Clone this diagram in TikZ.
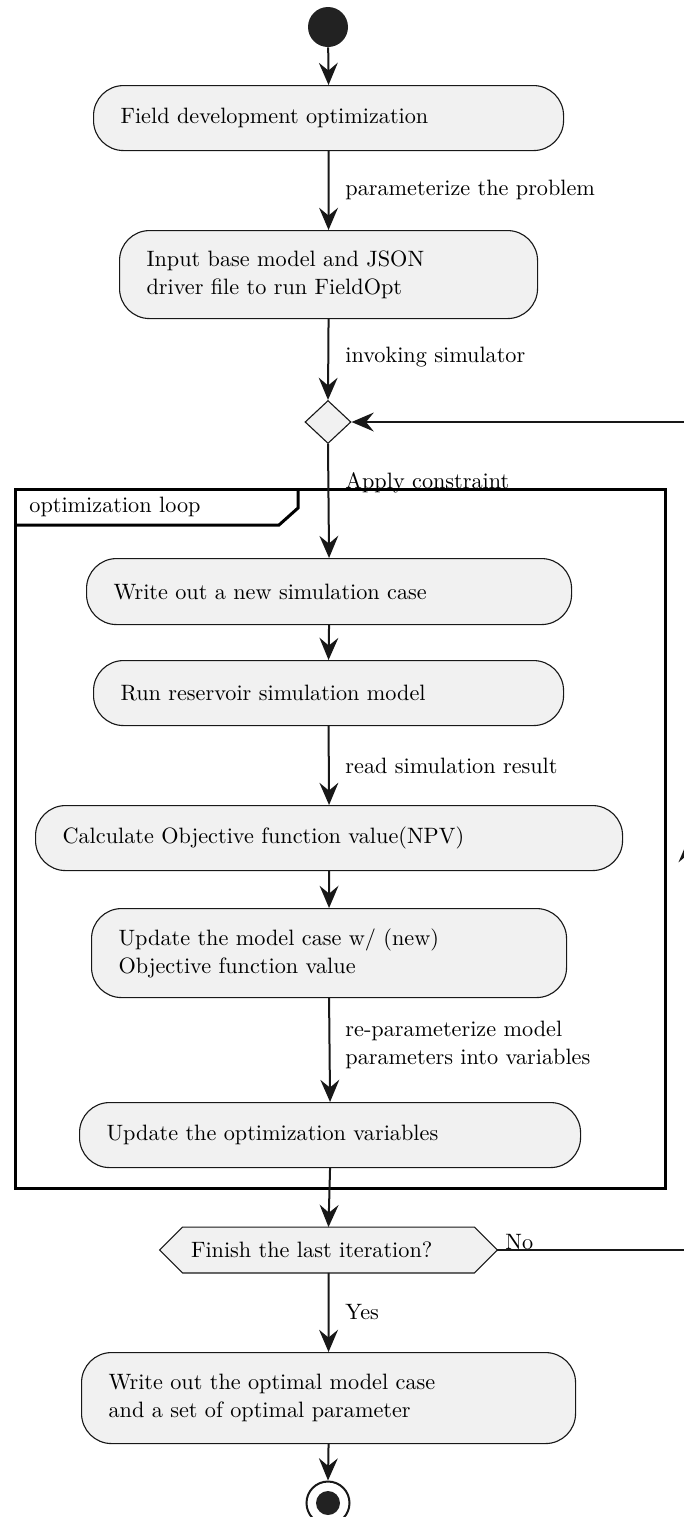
\documentclass[tikz,border=0pt]{standalone}
\usetikzlibrary{arrows.meta,shapes.geometric,calc,backgrounds}
\definecolor{ink}{HTML}{181818}
\definecolor{boxfill}{HTML}{F1F1F1}
\definecolor{dot}{HTML}{222222}
\begin{document}
\begin{tikzpicture}[x=0.45pt,y=-0.45pt,
  font=\fontsize{10}{12.6}\selectfont,
  act/.style={draw=ink, fill=boxfill, line width=0.5pt, rounded corners=13.5pt,
    anchor=north west, align=left, inner xsep=12.15pt, inner ysep=0pt},
  lbl/.style={anchor=west, inner sep=0pt, align=left},
  conn/.style={draw=ink, line width=0.9pt},
  arr/.style={conn, -{Stealth[length=10pt,width=8.5pt,inset=3.5pt]}},
  dia/.style={diamond, draw=ink, fill=boxfill, line width=0.5pt,
    minimum width=20.7pt, minimum height=19.35pt, inner sep=0pt},
  hexnode/.style={inner xsep=13.95pt, inner ysep=0pt, text width=123.75pt,
    minimum height=20.25pt, align=left},
  frm/.style={draw=black, line width=1.35pt}]
\useasboundingbox (0,0) rectangle (684,1517);
\clip (0,0) rectangle (684,1517);

% start
\node[circle, fill=dot, minimum size=18pt, inner sep=0pt] (start) at (328,27) {};

% activities
\node[act, text width=187.2pt, minimum height=29.25pt] (b1) at (93,85) {Field development optimization};
\node[act, text width=163.8pt, minimum height=39.6pt] (b2) at (119,230) {Input base model and JSON\\driver file to run FieldOpt};
\node[dia] (d) at (328,422) {};

% frame
\draw[frm] (15,489) rectangle (665,1188);
\draw[frm] (15,525) -- (279,525) -- (298,508) -- (298,489);
\node[lbl] (floop) at (29,507) {optimization loop};

\node[act, text width=193.95pt, minimum height=29.7pt] (b3) at (86,558) {Write out a new simulation case};
\node[act, text width=187.2pt, minimum height=29.25pt] (b4) at (93,660) {Run reservoir simulation model};
\node[act, text width=239.85pt, minimum height=29.25pt] (b5) at (35,805) {Calculate Objective function value(NPV)};
\node[act, text width=189.45pt, minimum height=40.05pt] (b6) at (91,908) {Update the model case w/ (new)\\Objective function value};
\node[act, text width=201.15pt, minimum height=29.25pt] (b7) at (79,1102) {Update the optimization variables};

% hexagon decision
\node[hexnode] (hex) at (328.5,1250) {\raisebox{-1.2pt}{Finish the last iteration?}};
\begin{scope}[on background layer]
\draw[draw=ink, fill=boxfill, line width=0.5pt]
  (hex.west) -- ($(hex.north west)+(23,0)$) -- ($(hex.north east)+(-23,0)$)
  -- (hex.east) -- ($(hex.south east)+(-23,0)$) -- ($(hex.south west)+(23,0)$) -- cycle;
\end{scope}

\node[act, text width=198pt, minimum height=40.95pt] (b8) at (81,1352) {Write out the optimal model case\\and a set of optimal parameter};

% end
\node[circle, draw=ink, line width=0.9pt, minimum size=19.35pt, inner sep=0pt] (endo) at (328,1503) {};
\node[circle, fill=dot, minimum size=10.8pt, inner sep=0pt] (endi) at (328,1503) {};

% connectors
\draw[arr] (start) -- (b1.north);
\draw[arr] (b1.south) -- (b2.north);
\draw[arr] (b2.south) -- (d.north);
\draw[arr] (d.south) -- (b3.north);
\draw[arr] (b3.south) -- (b4.north);
\draw[arr] (b4.south) -- (b5.north);
\draw[arr] (b5.south) -- (b6.north);
\draw[arr] (b6.south) -- (b7.north);
\draw[arr] (b7.south) -- (hex.north);
\draw[arr] (hex.south) -- (b8.north);
\draw[arr] (b8.south) -- (endo.north);

% loop back
\coordinate (r1) at (688,1250);
\coordinate (r2) at (688,422);
\coordinate (m1) at (688,875);
\coordinate (m2) at (688,840);
\draw[conn] (hex.east) -- (r1) -- (r2);
\draw[arr] (r2) -- (d.east);
\draw[arr] (m1) -- (m2);

% labels
\node[lbl] (l1) at (345,190) {parameterize the problem};
\node[lbl] (l2) at (345,357) {invoking simulator};
\node[lbl, anchor=base west] (l3) at (345,488) {Apply constraint};
\node[lbl] (l4) at (345,766) {read simulation result};
\node[lbl] (l5) at (345,1045) {re-parameterize model\\parameters into variables};
\node[lbl] (l6) at (345,1312) {Yes};
\node[lbl, anchor=base west] (l7) at (505,1249) {No};
\end{tikzpicture}
\end{document}
